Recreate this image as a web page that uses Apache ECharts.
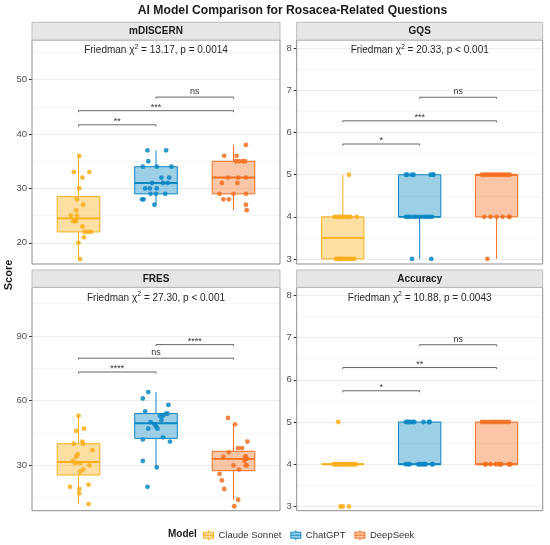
<!DOCTYPE html>
<html>
<head>
<meta charset="utf-8">
<script src="https://cdn.jsdelivr.net/npm/echarts@6/dist/echarts.min.js"></script>
<style>
html,body{margin:0;padding:0;background:#fff}
#main{width:550px;height:545px}
</style>
</head>
<body>
<div id="main"></div>
<script>
var FONT = '"Liberation Sans", Arial, Helvetica, sans-serif';

// models / colours
var models = ['Claude Sonnet', 'ChatGPT', 'DeepSeek'];
var lineColors = ['#FAAE1B', '#0B87C3', '#F37021'];
var fillColors = ['rgba(250,174,27,0.4)', 'rgba(11,135,195,0.4)', 'rgba(243,112,33,0.4)'];

// panels
var panelNames = ['mDISCERN', 'GQS', 'FRES', 'Accuracy'];
var friedmanChi = ['13.17', '20.33', '27.30', '10.88'];
var friedmanP = ['p = 0.0014', 'p < 0.001', 'p < 0.001', 'p = 0.0043'];

// y ticks and visible ranges
var mdiscernTicks = [20, 30, 40, 50];
var gqsTicks = [3, 4, 5, 6, 7, 8];
var fresTicks = [30, 60, 90];
var accuracyTicks = [3, 4, 5, 6, 7, 8];
var mdiscernRange = [16.1, 57.3];
var gqsRange = [2.88, 8.2];
var fresRange = [8.93, 112.6];
var accuracyRange = [2.9, 8.19];

// boxes: [min, Q1, median, Q3, max] per model
var mdiscernBox = [[17, 22, 24.5, 28.5, 36], [27, 29, 31, 34, 37], [26, 29, 32, 35, 38]];
var gqsBox = [[3, 3, 3.5, 4, 5], [3, 4, 4, 5, 5], [3, 4, 5, 5, 5]];
var fresBox = [[12, 25.5, 31.5, 40, 53], [29, 42.5, 49.5, 54, 64], [14, 27.5, 33, 36.5, 49]];
var accuracyBox = [[4, 4, 4, 4, 4], [4, 4, 4, 5, 5], [4, 4, 4, 5, 5]];

// raw scores + horizontal jitter
var mdiscernClaude = [36, 33, 33, 32, 30, 28, 27, 26, 25, 25, 24, 24, 24, 23, 22, 22, 22, 21, 20, 17];
var mdiscernClaudeJit = [0.01, -0.06, 0.14, 0.05, 0.01, -0.02, 0.06, -0.03, -0.10, -0.02, -0.07, -0.03, -0.05, 0.05, 0.08, 0.12, 0.16, 0.07, 0.00, 0.02];
var mdiscernChatgpt = [37, 37, 35, 34, 34, 34, 32, 32, 31, 31, 31, 30, 30, 30, 29, 29, 29, 28, 28, 27];
var mdiscernChatgptJit = [-0.11, 0.13, -0.10, -0.17, 0.01, 0.20, 0.07, 0.17, 0.09, 0.15, -0.05, -0.14, -0.08, 0.01, -0.07, 0.00, 0.12, -0.18, -0.16, -0.02];
var mdiscernDeepseek = [38, 36, 36, 35, 35, 35, 35, 32, 32, 32, 31, 31, 29, 29, 29, 28, 28, 27, 26];
var mdiscernDeepseekJit = [0.16, -0.12, 0.04, 0.03, 0.07, 0.12, 0.15, -0.07, 0.06, 0.16, -0.15, 0.05, -0.18, 0.00, 0.16, -0.13, -0.06, 0.16, 0.17];

var gqsClaude = [5, 4, 4, 4, 4, 4, 4, 4, 4, 4, 3, 3, 3, 3, 3, 3, 3, 3, 3, 3];
var gqsClaudeJit = [0.08, -0.11, -0.07, -0.04, -0.01, 0.01, 0.04, 0.07, 0.10, 0.18, -0.09, -0.06, -0.04, -0.02, 0.01, 0.03, 0.06, 0.09, 0.12, 0.15];
var gqsChatgpt = [5, 5, 5, 5, 5, 5, 5, 4, 4, 4, 4, 4, 4, 4, 4, 4, 4, 4, 3, 3];
var gqsChatgptJit = [-0.18, -0.16, -0.10, -0.08, 0.14, 0.17, 0.18, -0.18, -0.15, -0.12, -0.08, -0.05, -0.01, 0.03, 0.07, 0.10, 0.13, 0.16, -0.10, 0.15];
var gqsDeepseek = [5, 5, 5, 5, 5, 5, 5, 5, 5, 5, 5, 5, 5, 4, 4, 4, 4, 4, 4, 3];
var gqsDeepseekJit = [-0.19, -0.16, -0.13, -0.10, -0.07, -0.04, -0.01, 0.02, 0.05, 0.08, 0.11, 0.14, 0.17, -0.16, -0.08, 0.00, 0.08, 0.16, 0.17, -0.12];

var fresClaude = [53, 46, 47, 40, 41, 40, 37, 35, 34, 32, 31, 31, 30, 28, 27, 21, 20, 19, 17, 12];
var fresClaudeJit = [0.00, -0.03, 0.07, -0.06, 0.05, 0.06, 0.18, -0.01, -0.03, -0.07, 0.02, -0.04, 0.14, 0.06, 0.02, 0.13, -0.11, 0.01, 0.01, 0.13];
var fresChatgpt = [64, 61, 58, 55, 54, 54, 53, 53, 51, 50, 49, 48, 47, 47, 43, 42, 41, 32, 29, 20];
var fresChatgptJit = [-0.10, -0.17, 0.16, -0.14, 0.13, 0.15, 0.05, 0.09, 0.07, -0.07, -0.02, 0.00, -0.10, 0.02, 0.09, -0.17, 0.18, -0.17, 0.01, -0.11];
var fresDeepseek = [52, 49, 41, 38, 38, 36, 34, 34, 34, 33, 32, 30, 30, 30, 28, 26, 23, 19, 14, 11];
var fresDeepseekJit = [-0.07, 0.02, 0.18, 0.06, 0.11, -0.06, -0.13, 0.15, 0.16, 0.17, 0.14, 0.00, 0.16, 0.17, 0.07, -0.18, -0.15, -0.12, 0.06, 0.01];

var accuracyClaude = [5, 4, 4, 4, 4, 4, 4, 4, 4, 4, 4, 4, 4, 4, 4, 4, 4, 3, 3, 3];
var accuracyClaudeJit = [-0.06, -0.12, -0.10, -0.08, -0.06, -0.04, -0.02, 0.00, 0.01, 0.03, 0.05, 0.07, 0.09, 0.11, 0.13, 0.15, 0.17, -0.03, 0.00, 0.08];
var accuracyChatgpt = [5, 5, 5, 5, 5, 5, 5, 5, 5, 4, 4, 4, 4, 4, 4, 4, 4, 4, 4, 4];
var accuracyChatgptJit = [-0.18, -0.16, -0.14, -0.12, -0.09, -0.07, 0.05, 0.12, 0.13, -0.18, -0.15, -0.13, -0.02, 0.00, 0.02, 0.04, 0.06, 0.08, 0.17, 0.16];
var accuracyDeepseek = [5, 5, 5, 5, 5, 5, 5, 5, 5, 5, 4, 4, 4, 4, 4, 4, 4, 4, 4, 4];
var accuracyDeepseekJit = [-0.19, -0.15, -0.11, -0.07, -0.03, 0.00, 0.04, 0.08, 0.12, 0.16, -0.15, -0.08, -0.01, 0.03, 0.06, 0.16, 0.18, -0.14, 0.05, 0.17];

// significance brackets: [from, to, y, label]
var mdiscernSig = [[1, 2, 41.7, '**'], [1, 3, 44.3, '***'], [2, 3, 46.8, 'ns']];
var gqsSig = [[1, 2, 5.73, '*'], [1, 3, 6.28, '***'], [2, 3, 6.84, 'ns']];
var fresSig = [[1, 2, 73.3, '****'], [1, 3, 79.7, 'ns'], [2, 3, 86.0, '****']];
var accuracySig = [[1, 2, 5.74, '*'], [1, 3, 6.29, '**'], [2, 3, 6.83, 'ns']];

var panelTicks = [mdiscernTicks, gqsTicks, fresTicks, accuracyTicks];
var panelRanges = [mdiscernRange, gqsRange, fresRange, accuracyRange];
var panelSplit = [5, 5, 3, 5];
var panelBoxes = [mdiscernBox, gqsBox, fresBox, accuracyBox];
var panelScores = [
  [[mdiscernClaude, mdiscernClaudeJit], [mdiscernChatgpt, mdiscernChatgptJit], [mdiscernDeepseek, mdiscernDeepseekJit]],
  [[gqsClaude, gqsClaudeJit], [gqsChatgpt, gqsChatgptJit], [gqsDeepseek, gqsDeepseekJit]],
  [[fresClaude, fresClaudeJit], [fresChatgpt, fresChatgptJit], [fresDeepseek, fresDeepseekJit]],
  [[accuracyClaude, accuracyClaudeJit], [accuracyChatgpt, accuracyChatgptJit], [accuracyDeepseek, accuracyDeepseekJit]]
];
var panelSig = [mdiscernSig, gqsSig, fresSig, accuracySig];

// layout (pixels)
var BOX_WIDTH = 0.55;
var layout = [
  {left: 32, top: 40, width: 248, height: 224, strip: 22.3},
  {left: 296.7, top: 40, width: 246, height: 224, strip: 22.3},
  {left: 32, top: 287.3, width: 248, height: 223.4, strip: 270},
  {left: 296.7, top: 287.3, width: 246, height: 223.4, strip: 270}
];

function boxRenderer(m) {
  return function (params, api) {
    var x = api.value(0);
    var half = api.size([BOX_WIDTH, 0])[0] / 2;
    var cx = api.coord([x, api.value(3)])[0];
    var yMin = api.coord([x, api.value(1)])[1];
    var yQ1 = api.coord([x, api.value(2)])[1];
    var yMed = api.coord([x, api.value(3)])[1];
    var yQ3 = api.coord([x, api.value(4)])[1];
    var yMax = api.coord([x, api.value(5)])[1];
    var c = lineColors[m];
    return {
      type: 'group',
      children: [
        {type: 'line', shape: {x1: cx, y1: yQ3, x2: cx, y2: yMax}, style: {stroke: c, lineWidth: 1}},
        {type: 'line', shape: {x1: cx, y1: yQ1, x2: cx, y2: yMin}, style: {stroke: c, lineWidth: 1}},
        {type: 'rect', shape: {x: cx - half, y: yQ3, width: half * 2, height: yQ1 - yQ3},
          style: {fill: fillColors[m], stroke: c, lineWidth: 1}},
        {type: 'line', shape: {x1: cx - half, y1: yMed, x2: cx + half, y2: yMed}, style: {stroke: c, lineWidth: 1.9}}
      ]
    };
  };
}

function sigRenderer(sig) {
  return function (params, api) {
    var p1 = api.coord([api.value(0), api.value(2)]);
    var p2 = api.coord([api.value(1), api.value(2)]);
    var label = sig[params.dataIndex][3];
    var isStar = label.charAt(0) === '*';
    return {
      type: 'group',
      children: [
        {type: 'polyline', shape: {points: [[p1[0], p1[1] + 1.5], [p1[0], p1[1]], [p2[0], p2[1]], [p2[0], p2[1] + 1.5]]},
          style: {stroke: '#555', lineWidth: 0.9, fill: null}},
        {type: 'text', x: (p1[0] + p2[0]) / 2, y: p1[1] - (isStar ? 3 : 5.5),
          style: {text: label, fontSize: 9, fontFamily: FONT, fill: '#333',
            align: 'center', verticalAlign: 'middle'}}
      ]
    };
  };
}

var grids = [], xAxes = [], yAxes = [], series = [], graphics = [];

layout.forEach(function (L, g) {
  grids.push({left: L.left, top: L.top, width: L.width, height: L.height, show: false});
  xAxes.push({gridIndex: g, type: 'value', min: 0.4, max: 3.6, show: false});
  yAxes.push({
    gridIndex: g, type: 'value', min: panelRanges[g][0], max: panelRanges[g][1], splitNumber: panelSplit[g],
    axisLine: {show: false},
    axisTick: {show: true, length: 3, lineStyle: {color: '#333', width: 1}, customValues: panelTicks[g]},
    axisLabel: {customValues: panelTicks[g], color: '#4D4D4D', fontSize: 9.5, fontFamily: FONT, margin: 5},
    splitLine: {show: true, lineStyle: {color: '#EBEBEB', width: 1}},
    minorTick: {show: false, splitNumber: 2},
    minorSplitLine: {show: true, lineStyle: {color: '#F2F2F2', width: 0.7}}
  });

  for (var m = 0; m < 3; m++) {
    series.push({
      name: models[m], type: 'custom', xAxisIndex: g, yAxisIndex: g, z: 2, silent: true,
      renderItem: boxRenderer(m),
      encode: {x: 0, y: [1, 2, 3, 4, 5]},
      data: [[m + 1].concat(panelBoxes[g][m])]
    });
  }
  for (var m2 = 0; m2 < 3; m2++) {
    var vals = panelScores[g][m2][0], jit = panelScores[g][m2][1];
    series.push({
      name: models[m2], type: 'scatter', xAxisIndex: g, yAxisIndex: g, z: 3, silent: true,
      symbolSize: 4.8,
      itemStyle: {color: lineColors[m2], opacity: 0.85},
      data: vals.map(function (v, k) { return [m2 + 1 + jit[k], v]; })
    });
  }
  series.push({
    type: 'custom', xAxisIndex: g, yAxisIndex: g, z: 4, silent: true,
    renderItem: sigRenderer(panelSig[g]),
    encode: {x: [0, 1], y: 2},
    data: panelSig[g].map(function (s) { return [s[0], s[1], s[2]]; })
  });

  // panel frame and strip
  graphics.push({
    type: 'rect', z: 100, silent: true,
    shape: {x: L.left, y: L.top, width: L.width, height: L.height},
    style: {fill: 'none', stroke: '#8C8C8C', lineWidth: 1}
  });
  graphics.push({
    type: 'rect', z: 100, silent: true,
    shape: {x: L.left, y: L.strip, width: L.width, height: L.top - L.strip},
    style: {fill: '#E6E6E6', stroke: '#BDBDBD', lineWidth: 1}
  });
  graphics.push({
    type: 'text', z: 101, silent: true, x: L.left + L.width / 2, y: (L.strip + L.top) / 2 + 0.5,
    style: {text: panelNames[g], fontSize: 10, fontWeight: 'bold', fontFamily: FONT, fill: '#1A1A1A',
      align: 'center', verticalAlign: 'middle'}
  });
  graphics.push({
    type: 'text', z: 101, silent: true, x: L.left + L.width / 2, y: L.top + 10.5,
    style: {
      text: '{a|Friedman \u03C7}{s|2}{a| = ' + friedmanChi[g] + ', ' + friedmanP[g] + '}',
      align: 'center', verticalAlign: 'middle',
      rich: {
        a: {fontSize: 10, fontFamily: FONT, fill: '#262626', lineHeight: 14},
        s: {fontSize: 7, fontFamily: FONT, fill: '#262626', lineHeight: 7, verticalAlign: 'top'}
      }
    }
  });
});

graphics.push({
  type: 'text', silent: true, x: 9, y: 275, rotation: Math.PI / 2,
  style: {text: 'Score', fontSize: 11, fontWeight: 'bold', fontFamily: FONT, fill: '#1A1A1A',
    align: 'center', verticalAlign: 'middle'}
});
graphics.push({
  type: 'text', silent: true, x: 168, y: 534.7,
  style: {text: 'Model', fontSize: 10, fontWeight: 'bold', fontFamily: FONT, fill: '#1A1A1A',
    align: 'left', verticalAlign: 'middle'}
});

var legendIcon = 'path://M5,0L5,2M0,2L10,2L10,8L0,8ZM0,5L10,5M5,8L5,10';

var app = echarts.init(document.getElementById('main'), null, {renderer: 'canvas'});
app.setOption({
  backgroundColor: '#fff',
  animation: false,
  title: {
    text: 'AI Model Comparison for Rosacea-Related Questions',
    left: 287.5, top: 0, textAlign: 'center',
    textStyle: {fontSize: 12.2, fontWeight: 'bold', fontFamily: FONT, color: '#1A1A1A'}
  },
  legend: {
    left: 198, top: 524.7, itemWidth: 10, itemHeight: 10, itemGap: 9, selectedMode: false,
    textStyle: {fontSize: 9.5, fontFamily: FONT, color: '#333'},
    data: models.map(function (name, m) {
      return {name: name, icon: legendIcon,
        itemStyle: {color: fillColors[m], borderColor: lineColors[m], borderWidth: 1}};
    })
  },
  grid: grids,
  xAxis: xAxes,
  yAxis: yAxes,
  series: series,
  graphic: graphics
});
</script>
</body>
</html>
